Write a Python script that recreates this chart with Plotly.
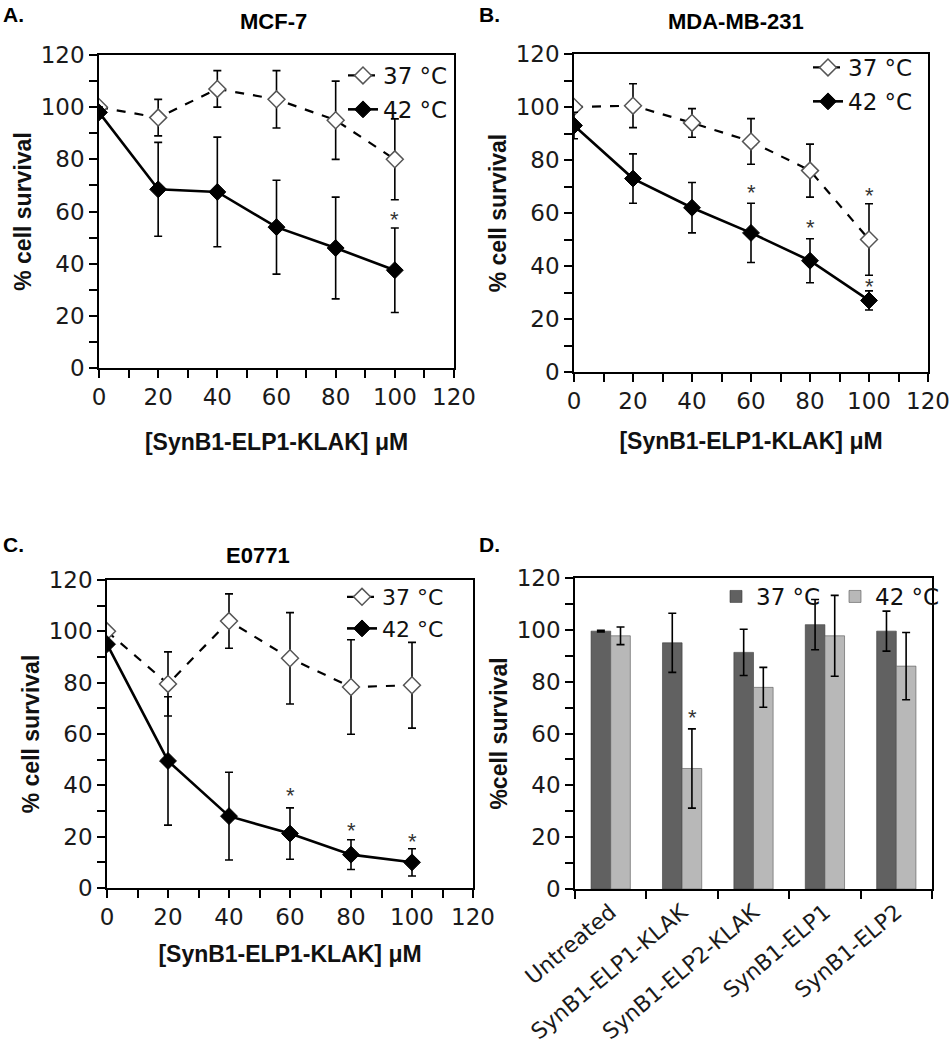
import plotly.graph_objects as go

# ---------------- data ----------------
conc = [0, 20, 40, 60, 80, 100]

mcf7_37 = [100, 96, 107, 103, 95, 80]
mcf7_37_err = [0, 7, 7, 11, 15, 15.5]
mcf7_42 = [98, 68.5, 67.5, 54, 46, 37.5]
mcf7_42_err = [2, 18, 21, 18, 19.5, 16.2]

mda_37 = [100, 100.5, 94, 87, 76, 50]
mda_37_err = [0, 8.3, 5.4, 8.6, 10, 13.5]
mda_42 = [93, 73, 62, 52.5, 42, 27]
mda_42_err = [5, 9.3, 9.5, 11.2, 8.3, 3.6]

e0771_37 = [100, 79.5, 104, 89.5, 78.3, 79]
e0771_37_err = [0, 12.5, 10.6, 17.8, 18.4, 16.7]
e0771_42 = [95, 49.5, 28, 21.2, 13, 10]
e0771_42_err = [1, 25, 17.1, 10, 5.8, 5.3]

treatments = ["Untreated", "SynB1-ELP1-KLAK", "SynB1-ELP2-KLAK", "SynB1-ELP1", "SynB1-ELP2"]
treat_37 = [99.5, 95, 91.3, 102, 99.5]
treat_37_err = [0.3, 11.4, 8.9, 9.7, 7.7]
treat_42 = [97.7, 46.5, 77.8, 97.7, 86]
treat_42_err = [3.4, 15.3, 7.7, 15.6, 13]

# significance markers (x, y)
stars_a = [(100, 59)]
stars_b = [(60, 69.5), (80, 56.5), (100, 68.5), (100, 34)]
stars_c = [(60, 38), (80, 24.5), (100, 20)]
stars_d = [("SynB1-ELP1-KLAK", 68)]

x_title = "<b>[SynB1-ELP1-KLAK] μM</b>"
y_title = "<b>% cell survival</b>"
y_title_d = "<b>%cell survival</b>"
label_37 = "37 °C"
label_42 = "42 °C"

# ---------------- styling ----------------
W, H = 952, 1050
TICKFONT = dict(family="DejaVu Sans", size=23, color="#1a1a1a")
TITLEFONT = dict(family="Liberation Sans", size=23, color="#111111")
LEGFONT = dict(family="DejaVu Sans", size=23, color="#111111")


def fx(px):
    return px / W


def fy(py):
    return 1 - py / H


fig = go.Figure()


def add_lines(xa, ya, leg, y37, e37, y42, e42):
    fig.add_trace(go.Scatter(
        x=conc, y=y37, name=label_37, mode="lines+markers",
        xaxis=xa, yaxis=ya, legend=leg, legendgroup=leg + "37",
        line=dict(color="black", width=2.2, dash="dash"),
        marker=dict(symbol="diamond", size=13, color="white",
                    line=dict(color="#555555", width=1.5)),
        error_y=dict(type="data", array=e37, color="black", thickness=1.6, width=4),
    ))
    fig.add_trace(go.Scatter(
        x=conc, y=y42, name=label_42, mode="lines+markers",
        xaxis=xa, yaxis=ya, legend=leg, legendgroup=leg + "42",
        line=dict(color="black", width=2.6),
        marker=dict(symbol="diamond", size=13, color="black",
                    line=dict(color="black", width=1)),
        error_y=dict(type="data", array=e42, color="black", thickness=1.6, width=4),
    ))


add_lines("x", "y", "legend", mcf7_37, mcf7_37_err, mcf7_42, mcf7_42_err)
add_lines("x2", "y2", "legend2", mda_37, mda_37_err, mda_42, mda_42_err)
add_lines("x3", "y3", "legend3", e0771_37, e0771_37_err, e0771_42, e0771_42_err)

fig.add_trace(go.Bar(
    x=treatments, y=treat_37, name=label_37, xaxis="x4", yaxis="y4", legend="legend4",
    marker=dict(color="#616161", line=dict(color="#3a3a3a", width=0.6)),
    error_y=dict(type="data", array=treat_37_err, color="black", thickness=1.6, width=4),
))
fig.add_trace(go.Bar(
    x=treatments, y=treat_42, name=label_42, xaxis="x4", yaxis="y4", legend="legend4",
    marker=dict(color="#b8b8b8", line=dict(color="#555555", width=0.6)),
    error_y=dict(type="data", array=treat_42_err, color="black", thickness=1.6, width=4),
))

common = dict(
    showline=True, linecolor="black", linewidth=1.5, mirror=True,
    ticks="outside", ticklen=8, tickwidth=1.5, tickcolor="black",
    showgrid=False, zeroline=False, tickfont=TICKFONT, automargin=False,
    ticklabeloverflow="allow",
)
minor = dict(dtick=10, ticks="outside", ticklen=8, tickwidth=1.5, tickcolor="black", showgrid=False)


def yaxis(domain, anchor, title):
    return dict(common, domain=domain, anchor=anchor, range=[0, 120], dtick=20, minor=minor,
                title=dict(text=title, font=TITLEFONT, standoff=3))


def xaxis(domain, anchor, standoff=24):
    return dict(common, domain=domain, anchor=anchor, range=[0, 120], dtick=20, minor=minor,
                title=dict(text=x_title, font=TITLEFONT, standoff=standoff))


leg_common = dict(font=LEGFONT, bgcolor="rgba(0,0,0,0)", xanchor="left", yanchor="top",
                  tracegroupgap=1, itemwidth=30)

fig.update_layout(
    template="none",
    width=W, height=H,
    margin=dict(l=0, r=0, t=0, b=0, autoexpand=False),
    paper_bgcolor="white", plot_bgcolor="white",
    barmode="group", bargap=0.45, bargroupgap=0,
    xaxis=xaxis([fx(99), fx(454)], "y", 25),
    yaxis=yaxis([fy(368), fy(55)], "x", y_title),
    xaxis2=xaxis([fx(574), fx(928)], "y2", 20),
    yaxis2=yaxis([fy(372), fy(54)], "x2", y_title),
    xaxis3=xaxis([fx(107), fx(473)], "y3", 17),
    yaxis3=yaxis([fy(888), fy(580)], "x3", y_title),
    xaxis4=dict(common, domain=[fx(575), fx(932)], anchor="y4", type="category",
                range=[-0.5, 4.5], tickson="boundaries", tickangle=-40,
                tickfont=dict(TICKFONT, size=22)),
    yaxis4=yaxis([fy(889), fy(578)], "x4", y_title_d),
    legend=dict(leg_common, x=fx(343), y=fy(54)),
    legend2=dict(leg_common, x=fx(808), y=fy(46)),
    legend3=dict(leg_common, x=fx(342), y=fy(576), tracegroupgap=0, font=dict(LEGFONT, size=22)),
    legend4=dict(leg_common, x=fx(716), y=fy(575), orientation="h",
                 entrywidth=74, entrywidthmode="pixels"),
    showlegend=True,
)

# panel letters and titles
letter_font = dict(family="Liberation Sans", size=21, color="black")
title_font = dict(family="Liberation Sans", size=22, color="black")
for txt, px, py in [("<b>A.</b>", 1, 1), ("<b>B.</b>", 477, 1), ("<b>C.</b>", 1, 531), ("<b>D.</b>", 477, 531)]:
    fig.add_annotation(text=txt, x=fx(px), y=fy(py), xref="paper", yref="paper",
                       xanchor="left", yanchor="top", showarrow=False, font=letter_font)
for txt, px, py in [("<b>MCF-7</b>", 273, 21), ("<b>MDA-MB-231</b>", 736, 21), ("<b>E0771</b>", 258, 555)]:
    fig.add_annotation(text=txt, x=fx(px), y=fy(py), xref="paper", yref="paper",
                       xanchor="center", yanchor="middle", showarrow=False, font=title_font)

star_font = dict(family="Liberation Sans", size=22, color="#333333")
for stars, xa, ya in [(stars_a, "x", "y"), (stars_b, "x2", "y2"), (stars_c, "x3", "y3")]:
    for sx, sy in stars:
        fig.add_annotation(text="*", x=sx, y=sy, xref=xa, yref=ya, showarrow=False,
                           font=star_font, yshift=-5)
for sx, sy in stars_d:
    fig.add_annotation(text="*", x=sx, y=sy, xref="x4", yref="y4", showarrow=False,
                       font=star_font, xshift=10, yshift=-5)

fig.write_html("out.html", config={"displayModeBar": False},
               post_script="document.body.style.margin='0';")
